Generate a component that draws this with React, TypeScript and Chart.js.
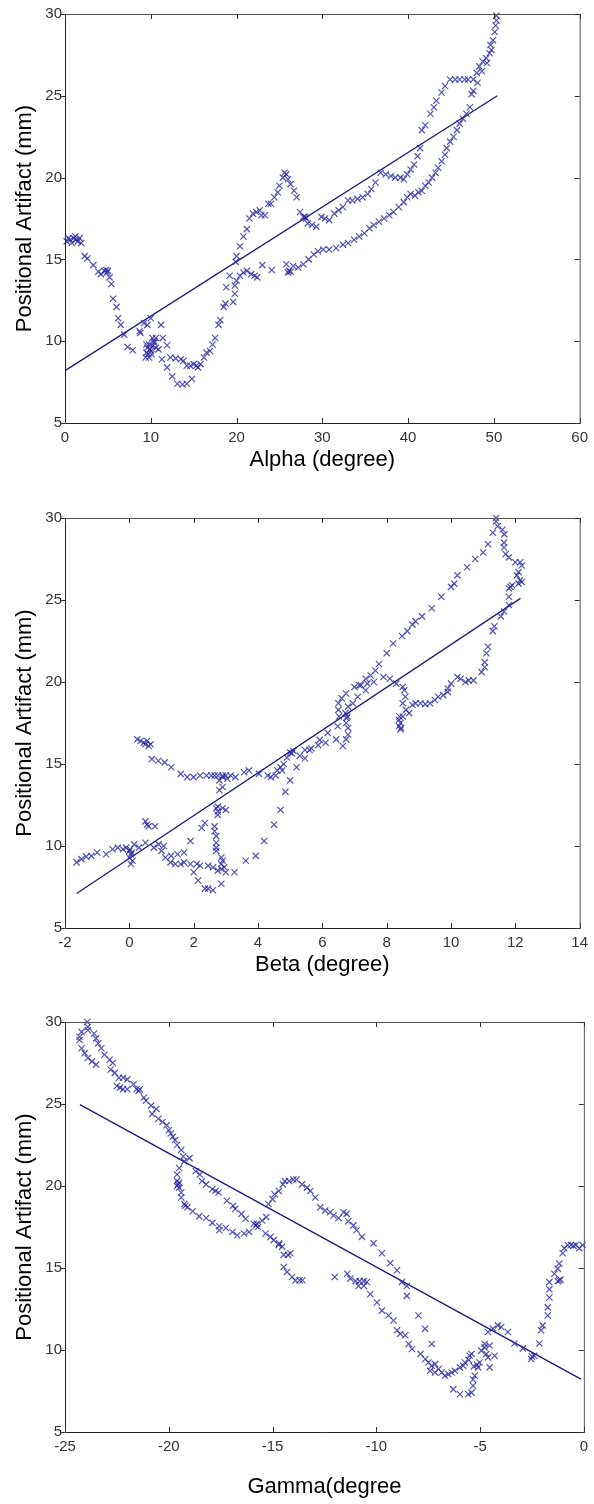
import React, { useEffect, useRef } from "react";
import { Chart, registerables } from "chart.js";

Chart.register(...registerables);

// ---------- Data ----------
const alphaX = [
  0.2, 0.4, 0.6, 0.8, 1.0, 1.2, 1.3, 1.5, 1.7, 1.9,
  2.3, 2.6, 3.3, 3.9, 4.2, 4.6, 4.8, 5.0, 4.9, 5.2, 5.4, 5.6, 6.0, 6.2, 6.5, 6.9, 7.3, 7.9, 8.7, 8.8, 9.2, 9.6,
  9.4, 9.5, 9.6, 9.7, 9.8, 9.9, 10.0, 10.2, 10.4, 10.6, 9.5, 9.8, 10.1,
  10.0, 10.2, 10.4, 10.6, 10.9, 11.2, 11.4, 11.9, 11.3, 11.9, 12.5, 13.1, 13.7, 14.2, 14.8,
  12.3, 12.9, 13.5, 13.8, 14.2, 14.6, 15.0, 15.3, 15.5, 15.8, 16.2, 16.5, 16.9, 17.2, 17.5, 17.9, 18.1,
  18.5, 18.7, 18.8, 19.2, 19.6, 19.8, 19.8, 20.0, 20.0, 19.9, 20.4, 20.8, 21.2, 21.7, 22.1, 22.4, 23.0, 24.1, 25.8,
  20.4, 20.8, 21.2, 21.5, 21.9, 22.3, 22.7, 22.9, 23.3, 23.7, 24.0, 24.4, 24.8, 25.0, 25.4, 25.6, 25.8, 26.0, 26.3,
  26.7, 27.0, 27.4, 27.8, 28.0, 28.1, 28.3, 28.8, 29.3, 29.9, 30.3, 30.8, 31.4, 31.9, 32.4, 33.0, 33.5, 34.1,
  34.7, 35.3, 35.7, 36.2, 36.8, 37.4, 38.0, 38.5, 39.1, 39.5, 39.9, 40.3, 40.7, 41.1, 41.4, 41.6, 42.0, 42.6,
  43.0, 43.3, 43.9, 44.3, 44.9, 45.5, 46.0, 46.6, 47.0, 47.4, 47.6, 48.0, 48.3, 48.7, 49.1, 49.5, 49.7, 49.9,
  50.1, 50.2, 50.3, 50.3,
  49.6, 49.2, 48.6, 48.1, 47.6,
  47.2, 46.8, 46.4, 46.0, 45.7, 45.3, 44.9, 44.5, 44.3, 43.9, 43.5, 43.2, 42.8, 42.4, 42.0, 41.6, 41.2, 40.8,
  40.3, 39.9, 39.5, 38.9, 38.3, 37.8, 37.2, 36.6, 36.0, 35.5, 34.9, 34.3, 33.7, 33.0, 32.4, 31.6, 30.8, 30.1,
  29.5, 29.0, 28.4, 27.8, 27.2, 26.6, 26.3, 26.0, 26.1,
];
const alphaY = [
  16.1, 16.3, 16.2, 16.0, 16.3, 16.4, 16.2, 16.1, 16.3, 16.0,
  15.2, 15.06, 14.65, 14.25, 14.1, 14.3, 14.35, 14.3, 14.2, 13.9, 13.5, 12.6, 12.1, 11.4, 11.0, 10.4, 9.65, 9.45, 10.6, 10.5, 11.1, 11.0,
  9.0, 9.3, 9.6, 9.2, 9.8, 9.5, 9.4, 9.7, 9.9, 9.6, 9.8, 9.0, 9.2,
  11.4, 10.2, 10.0, 10.2, 9.5, 11.0, 10.2, 9.75, 8.9, 8.4, 7.85, 7.4, 7.35, 7.4, 7.7,
  9.0, 8.95, 8.9, 8.8, 8.5, 8.5, 8.6, 8.5, 8.4, 8.6, 9.0, 9.3, 9.4, 9.8, 10.2, 11.0, 11.3,
  12.1, 12.3, 13.3, 14.0, 12.4, 12.9, 13.4, 13.7, 15.2, 14.85, 14.0, 14.2, 14.3, 14.1, 14.0, 13.9, 14.65, 14.35, 14.7,
  15.8, 16.4, 16.85, 17.5, 17.8, 17.9, 18.0, 17.7, 17.7, 18.4, 18.4, 18.8, 19.1, 19.5, 20.0, 20.3, 20.2, 19.9, 19.6,
  19.2, 18.8, 17.9, 17.6, 17.6, 17.5, 17.2, 17.1, 17.0, 17.6, 17.5, 17.4, 17.8, 18.0, 18.2, 18.6, 18.6, 18.7,
  18.8, 19.0, 19.3, 19.7, 20.3, 20.2, 20.1, 20.0, 20.0, 19.9, 20.2, 20.5, 20.8, 21.3, 21.8, 22.9, 23.2, 23.9,
  24.3, 24.7, 25.2, 25.6, 26.0, 26.0, 26.0, 26.0, 26.0, 25.1, 26.0, 26.4, 26.8, 27.1, 27.3, 27.6, 27.8, 28.4,
  28.9, 29.3, 29.6, 29.9,
  28.1, 27.0, 26.5, 25.8, 25.3,
  24.3, 23.9, 23.6, 23.3, 22.9, 22.5, 22.2, 21.8, 21.4, 21.0, 20.6, 20.3, 20.0, 19.7, 19.5, 19.2, 19.1, 18.9,
  19.0, 18.8, 18.5, 18.2, 17.9, 17.7, 17.5, 17.3, 17.1, 16.9, 16.6, 16.4, 16.2, 16.0, 15.9, 15.7, 15.6, 15.6,
  15.5, 15.3, 15.0, 14.7, 14.5, 14.6, 14.25, 14.2, 14.3,
];
const alphaFitX = [0.1, 50.4];
const alphaFitY = [8.23, 25.0];

const betaX = [
  -1.64, -1.49, -1.34, -1.18, -1.0, -0.72, -0.52, -0.36, -0.2, -0.1,
  0.0, 0.05, 0.0, 0.1, 0.05, 0.02, 0.08,
  0.15, 0.3, 0.5, 0.5, 0.55, 0.6, 0.8, 0.76, 0.91, 1.0, 1.07, 1.12, 1.28, 1.43, 1.3, 1.5, 1.6, 1.7, 1.7, 1.9, 1.9,
  2.0, 2.1, 2.2, 2.14, 2.25, 2.35, 2.35, 2.45, 2.6, 2.45, 2.6, 2.75, 2.86, 2.65, 2.65, 2.7, 2.7, 2.7, 2.7,
  2.75, 2.75, 2.7, 2.75, 2.9, 3.0, 2.8, 2.9, 2.86, 2.9, 2.86, 2.95, 3.0, 2.86, 2.8, 2.9, 3.05, 3.27, 3.15, 3.3,
  3.57, 3.72, 3.62, 3.93, 4.19, 4.03, 4.3, 4.4, 4.55, 4.5, 4.7, 4.85, 5.0, 4.6, 4.7, 4.8, 4.9, 5.05, 5.0, 5.1,
  0.25, 0.35, 0.45, 0.5, 0.55, 0.6, 0.66, 0.7, 0.9, 1.1, 1.3, 1.6, 1.8, 2.0, 2.2, 2.4, 2.55, 2.65, 2.75, 2.9, 3.0,
  4.75, 5.2, 5.3, 5.46, 5.6, 5.66, 5.46, 5.87, 5.92, 6.1, 6.17, 6.43, 6.48, 6.64, 6.74, 6.8, 6.8, 6.74, 6.76,
  6.72, 6.78, 6.5, 6.6, 6.74, 6.5, 6.52, 6.8, 6.95, 7.1, 7.35,
  8.38, 8.43, 8.38, 8.43, 8.4, 8.45,
  8.5, 8.6, 8.7, 8.8, 8.5, 8.58, 8.9, 9.05, 9.2, 9.35, 9.5, 9.6, 9.76, 9.9,
  7.0, 7.15, 7.35, 7.5, 7.65, 7.76, 8.0, 8.2, 8.48, 8.64, 8.8, 8.9, 9.1, 9.4, 9.7, 10.0, 10.1, 10.2, 10.5, 10.75,
  11.0, 11.15, 11.3, 11.4, 11.4, 11.45, 11.6, 11.66, 11.65, 11.65, 11.7, 11.8, 12.0, 12.15, 12.2, 12.1, 12.05,
  12.15, 12.1, 12.2, 11.9, 11.8, 11.85, 11.8, 11.8, 11.65, 11.55, 11.35, 11.3, 11.15, 11.1, 11.05, 11.05, 10.95,
  10.7, 10.55, 10.45, 10.3, 10.2, 10.0, 9.9,
  7.9, 8.1, 8.3, 8.5, 8.55, 7.2, 7.4, 7.6,
];
const betaY = [
  9.0, 9.2, 9.35, 9.4, 9.6, 9.5, 9.8, 9.9, 9.8, 9.9,
  9.7, 9.5, 9.3, 9.1, 8.9, 9.8, 9.6,
  10.1, 9.9, 10.2, 11.5, 11.3, 11.2, 11.2, 9.9, 10.1, 9.7, 10.0, 9.3, 9.0, 8.9, 9.4, 9.5, 8.9, 9.0, 9.6, 10.3, 8.9,
  8.4, 8.9, 8.8, 7.9, 11.1, 11.4, 7.4, 7.4, 7.3, 8.8, 8.7, 8.5, 8.6, 11.2, 10.9, 10.6, 10.2, 9.9, 9.7,
  11.9, 12.1, 12.3, 12.4, 12.3, 12.2, 13.4, 13.6, 9.3, 9.1, 8.9, 8.7, 8.4, 7.7, 14.0, 14.2, 14.1, 8.4, 14.3, 14.2,
  14.5, 14.6, 9.1, 9.4, 10.3, 14.4, 14.3, 14.2, 14.3, 11.3, 12.2, 13.3, 14.0, 14.6, 14.8, 15.0, 15.4, 15.65, 15.7, 15.8,
  16.5, 16.4, 16.3, 16.2, 16.4, 16.1, 16.2, 15.3, 15.2, 15.1, 14.8, 14.4, 14.2, 14.2, 14.3, 14.3, 14.3, 14.3, 14.3, 14.3, 14.3,
  14.6, 14.8, 15.5, 15.35, 15.85, 15.95, 15.85, 16.15, 16.47, 16.3, 16.9, 16.5, 17.3, 16.1, 16.5, 16.8, 17.2, 17.5, 17.8,
  18.1, 17.9, 18.7, 19.0, 19.3, 18.3, 17.9, 18.5, 18.7, 19.1, 19.5,
  17.7, 17.5, 17.3, 17.1, 17.9, 17.2,
  17.9, 18.3, 18.1, 18.6, 18.7, 19.1, 18.7, 18.7, 18.65, 18.7, 18.9, 19.1, 19.2, 19.4,
  19.7, 19.8, 20.2, 20.4, 20.7, 21.1, 21.75, 22.35, 22.8, 23.1, 23.5, 23.7, 24.0, 24.5, 25.2, 25.8, 26.0, 26.5, 27.0, 27.5,
  27.9, 28.4, 29.1, 29.8, 30.0, 29.5, 29.3, 29.0, 28.5, 28.2, 27.8, 27.6, 27.3, 27.3, 27.1, 26.7, 26.5,
  26.2, 26.0, 26.1, 25.9, 25.7, 25.8, 25.2, 24.7, 24.3, 24.0, 23.4, 23.1, 22.15, 21.75, 21.2, 20.9, 20.6,
  20.1, 20.1, 20.0, 20.2, 20.3, 19.9, 19.6,
  20.3, 20.2, 19.9, 19.7, 19.5, 19.8, 19.9, 20.0,
];
const betaFitX = [-1.64, 12.16];
const betaFitY = [7.1, 25.1];

const gammaX = [
  -23.93, -23.9, -23.9, -24.2, -24.3, -24.3, -24.2, -24.05, -23.9, -23.7, -23.5, -23.6, -23.5, -23.4, -23.25,
  -23.1, -22.85, -22.7, -22.8, -22.6, -22.4, -22.5, -22.35, -22.2, -22.0, -22.2, -22.0, -21.7, -21.55, -21.45,
  -21.4, -21.2, -21.1, -20.85, -20.6, -20.8, -20.5, -20.3, -20.1, -20.0, -19.9, -19.8, -19.7, -19.6, -19.4, -19.3,
  -19.25, -19.0, -19.5, -19.6, -19.6, -19.55, -19.5, -19.6, -19.5, -19.4, -19.4, -19.25, -19.2, -19.1,
  -18.7, -18.5, -18.4, -18.2, -17.9, -17.75, -17.6, -17.2, -16.9, -16.8, -16.5, -16.3, -15.9, -15.8, -15.7,
  -15.75, -15.5, -15.3, -15.2, -15.0, -14.9, -14.7, -14.5, -14.4, -14.2, -14.0, -13.85, -13.58, -13.34, -13.18,
  -12.94, -12.7, -12.46, -12.22, -12.06, -11.82, -11.58, -11.43, -11.35, -11.1, -10.95, -10.69, -10.13, -9.73,
  -9.33, -9.0, -8.77, -8.53, -8.53,
  -18.85, -18.53, -18.2, -17.9, -17.57, -17.25, -17.57, -16.93, -16.7, -16.37, -16.13, -15.34, -15.1, -14.94,
  -14.7, -14.54, -14.46, -14.14, -14.25, -14.46, -14.3, -14.06, -13.9, -13.7, -13.56, -14.68,
  -12.0, -11.4, -11.25, -11.0, -10.8, -10.6, -10.45, -10.85, -10.6, -10.29, -9.97, -9.73, -9.41, -9.17, -9.0,
  -8.85, -8.6, -8.44, -8.28, -7.97, -7.65, -7.87, -7.64, -7.49, -7.33, -7.17, -7.33, -7.41, -7.17, -7.0, -6.85,
  -6.69, -6.53, -6.37, -6.21, -5.97, -6.29, -5.97, -5.57, -5.41, -5.34, -5.34, -5.26, -5.1, -5.02, -5.81, -5.73,
  -5.5, -5.41, -5.55, -5.15, -5.3, -4.94, -4.78, -4.7, -4.62, -4.78, -4.54, -4.3, -4.54, -4.62, -4.38, -4.14,
  -3.98, -3.66, -3.34, -2.94, -2.54, -2.39, -2.5, -2.14, -2.06, -1.98, -1.74, -1.74, -1.66, -1.66, -1.66, -1.42,
  -1.26, -1.18, -1.18, -1.25, -1.12, -1.02, -0.94, -0.78, -0.62, -0.38, -0.22, -0.06, -0.5,
];
const gammaY = [
  30.0, 29.7, 29.5, 29.4, 29.1, 28.9, 28.4, 28.1, 27.8, 27.6, 27.4, 29.3, 29.0, 28.7, 28.4,
  28.0, 27.7, 27.5, 27.1, 26.9, 26.6, 26.1, 26.0, 25.9, 25.9, 26.6, 26.5, 26.2, 25.9, 25.8,
  25.9, 25.4, 25.2, 24.9, 24.7, 24.4, 24.1, 23.9, 23.7, 23.4, 23.2, 23.0, 22.8, 22.5, 22.2, 21.8,
  21.5, 21.7, 21.1, 20.7, 20.3, 20.1, 19.9, 20.0, 20.2, 19.6, 19.3, 18.9, 18.8, 18.7,
  20.9, 20.7, 20.3, 20.1, 19.8, 19.7, 19.6, 19.1, 18.8, 18.6, 18.3, 18.0, 17.7, 17.6, 17.5,
  17.7, 17.9, 18.1, 18.9, 19.2, 19.5, 19.7, 20.1, 20.3, 20.3, 20.4, 20.4, 20.1, 19.9, 19.7,
  19.3, 18.7, 18.5, 18.4, 18.2, 18.05, 18.4, 18.3, 17.85, 17.6, 17.3, 16.9, 16.5, 15.9,
  15.3, 14.86, 14.14, 13.9, 13.3,
  18.46, 18.15, 18.05, 17.75, 17.55, 17.44, 17.3, 17.2, 17.0, 17.1, 17.2, 17.1, 16.9, 16.7,
  16.4, 16.3, 15.8, 15.9, 15.8, 15.06, 14.76, 14.45, 14.24, 14.25, 14.25, 16.5,
  14.45, 14.65, 14.35, 14.2, 14.2, 14.2, 14.15, 13.9, 13.9, 13.4, 12.9, 12.4, 12.1, 11.8, 11.2,
  10.98, 10.9, 10.37, 10.06, 12.1, 11.3, 9.76, 9.45, 9.24, 9.04, 9.14, 10.37, 8.73, 8.63, 8.84, 8.63,
  8.43, 8.53, 8.63, 8.73, 8.94, 7.6, 7.3, 7.3, 7.4, 7.82, 8.2, 8.43, 8.94, 9.24, 9.04, 9.24,
  9.65, 9.76, 9.4, 9.1, 9.0, 9.96, 10.16, 9.76, 9.55, 10.37, 10.27, 9.65, 8.94, 11.1, 11.3, 11.5,
  11.4, 11.1, 10.4, 10.1, 9.45, 9.65, 9.6, 10.4, 11.2, 11.5, 12.1, 12.6, 13.2, 13.7, 14.14, 14.65,
  14.96, 15.27, 14.25, 14.2, 14.3, 15.9, 16.2, 16.4, 16.4, 16.4, 16.2, 16.4, 16.35,
];
const gammaFitX = [-24.28, -0.14];
const gammaFitY = [24.96, 8.22];

const yTitle = "Positional Artifact (mm)";
const alphaTitle = "Alpha (degree)";
const betaTitle = "Beta (degree)";
const gammaTitle = "Gamma(degree";

// ---------- Styling ----------
const MARKER_COLOR = "rgba(40,40,160,0.8)";
const FIT_COLOR = "#1a1a7e";
const TICK_FONT = { family: '"Liberation Sans Narrow", "Liberation Sans", Arial, sans-serif', size: 15 };
const TITLE_FONT = { family: '"Liberation Sans", Arial, sans-serif', size: 22 };

const boxPlugin = {
  id: "matlabBox",
  afterDraw(chart: any) {
    const { ctx, chartArea } = chart;
    const { left, right, top, bottom } = chartArea;
    const xs = chart.scales.x;
    const ys = chart.scales.y;
    ctx.save();
    ctx.lineWidth = 1;
    ctx.strokeStyle = "#555";
    ctx.beginPath();
    ctx.moveTo(left, top + 0.5);
    ctx.lineTo(right + 0.5, top + 0.5);
    ctx.lineTo(right + 0.5, bottom);
    ctx.stroke();
    ctx.strokeStyle = "#222";
    ctx.beginPath();
    ctx.moveTo(left + 0.5, top);
    ctx.lineTo(left + 0.5, bottom + 0.5);
    ctx.lineTo(right + 1, bottom + 0.5);
    ctx.stroke();
    ctx.strokeStyle = "#333";
    ctx.beginPath();
    for (const t of xs.ticks) {
      const px = Math.round(xs.getPixelForValue(t.value)) + 0.5;
      ctx.moveTo(px, bottom);
      ctx.lineTo(px, bottom - 5);
      ctx.moveTo(px, top);
      ctx.lineTo(px, top + 5);
    }
    for (const t of ys.ticks) {
      const py = Math.round(ys.getPixelForValue(t.value)) + 0.5;
      ctx.moveTo(left, py);
      ctx.lineTo(left - 4, py);
      ctx.moveTo(right, py);
      ctx.lineTo(right - 5, py);
    }
    ctx.stroke();
    ctx.restore();
  },
};

type PlotSpec = {
  xs: number[];
  ys: number[];
  fitX: number[];
  fitY: number[];
  xMin: number;
  xMax: number;
  xStep: number;
  xTitle: string;
  canvasH: number;
  padTop: number;
  xAxisH: number;
  xTitlePadBottom: number;
};

function Plot({ spec, top }: { spec: PlotSpec; top: number }) {
  const ref = useRef<HTMLCanvasElement | null>(null);
  useEffect(() => {
    if (!ref.current) return;
    const pts = spec.xs.map((x, i) => ({ x, y: spec.ys[i] }));
    const fit = spec.fitX.map((x, i) => ({ x, y: spec.fitY[i] }));
    const chart = new Chart(ref.current, {
      type: "scatter",
      data: {
        datasets: [
          {
            type: "scatter",
            data: pts,
            pointStyle: "crossRot",
            pointRadius: 4.4,
            pointBorderWidth: 1.2,
            borderColor: MARKER_COLOR,
            backgroundColor: "transparent",
            clip: false,
          } as any,
          {
            type: "line",
            data: fit,
            borderColor: FIT_COLOR,
            borderWidth: 1.3,
            pointRadius: 0,
            fill: false,
            clip: false,
          } as any,
        ],
      },
      options: {
        animation: false,
        responsive: false,
        devicePixelRatio: 1,
        layout: { padding: { top: spec.padTop, right: 7, left: 0, bottom: 0 } },
        plugins: { legend: { display: false }, tooltip: { enabled: false } },
        scales: {
          x: {
            type: "linear",
            min: spec.xMin,
            max: spec.xMax,
            ticks: { stepSize: spec.xStep, font: TICK_FONT, color: "#333", padding: 6, maxRotation: 0, autoSkip: false },
            grid: { display: false, drawTicks: false },
            border: { display: false },
            title: {
              display: true,
              text: spec.xTitle,
              font: TITLE_FONT,
              color: "#000",
              padding: { top: 0, bottom: spec.xTitlePadBottom },
            },
            afterFit: (s: any) => {
              s.height = spec.xAxisH;
            },
          },
          y: {
            type: "linear",
            min: 5,
            max: 30,
            ticks: { stepSize: 5, font: TICK_FONT, color: "#333", padding: 3 },
            grid: { display: false, drawTicks: false },
            border: { display: false },
            title: {
              display: true,
              text: yTitle,
              font: TITLE_FONT,
              color: "#000",
              padding: { top: 12, bottom: 0 },
            },
            afterFit: (s: any) => {
              s.width = 65;
            },
          },
        },
      } as any,
      plugins: [boxPlugin],
    });
    return () => chart.destroy();
  }, [spec]);
  return (
    <canvas
      ref={ref}
      width={594}
      height={spec.canvasH}
      style={{ position: "absolute", left: 0, top, width: 594, height: spec.canvasH, display: "block" }}
    />
  );
}

const plots: { spec: PlotSpec; top: number }[] = [
  {
    top: 0,
    spec: {
      xs: alphaX, ys: alphaY, fitX: alphaFitX, fitY: alphaFitY,
      xMin: 0, xMax: 60, xStep: 10, xTitle: alphaTitle,
      canvasH: 490, padTop: 14, xAxisH: 67, xTitlePadBottom: 17,
    },
  },
  {
    top: 490,
    spec: {
      xs: betaX, ys: betaY, fitX: betaFitX, fitY: betaFitY,
      xMin: -2, xMax: 14, xStep: 2, xTitle: betaTitle,
      canvasH: 490, padTop: 28, xAxisH: 52, xTitlePadBottom: 2,
    },
  },
  {
    top: 980,
    spec: {
      xs: gammaX, ys: gammaY, fitX: gammaFitX, fitY: gammaFitY,
      xMin: -25, xMax: 0, xStep: 5, xTitle: gammaTitle,
      canvasH: 524, padTop: 42, xAxisH: 72, xTitlePadBottom: 4,
    },
  },
];

export default function App() {
  return (
    <div style={{ position: "absolute", left: 0, top: 0, width: 594, height: 1504, background: "#fff", overflow: "hidden" }}>
      {plots.map((p, i) => (
        <Plot key={i} spec={p.spec} top={p.top} />
      ))}
    </div>
  );
}
